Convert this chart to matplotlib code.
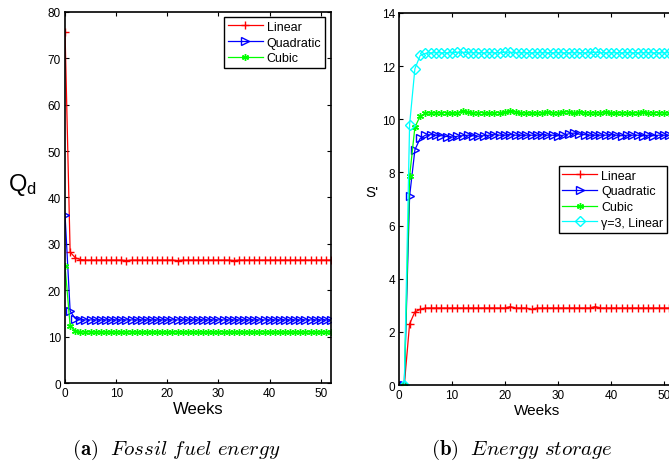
import numpy as np
import matplotlib
matplotlib.use("Agg")
import matplotlib.pyplot as plt

plt.rcParams['font.family'] = ['Liberation Sans', 'DejaVu Sans']
plt.rcParams['mathtext.fontset'] = 'cm'

# ---- (a) fossil fuel energy, weeks 0..52
weeks_a = np.arange(0, 53)
qd_linear = [75.7, 28.2, 27.0, 26.6, 26.5, 26.5, 26.5, 26.5, 26.5, 26.5,
             26.5, 26.5, 26.4, 26.5, 26.5, 26.5, 26.5, 26.5, 26.5, 26.5,
             26.5, 26.5, 26.4, 26.5, 26.5, 26.5, 26.5, 26.5, 26.5, 26.5,
             26.5, 26.5, 26.5, 26.4, 26.5, 26.5, 26.5, 26.5, 26.5, 26.5,
             26.5, 26.5, 26.5, 26.5, 26.5, 26.5, 26.5, 26.5, 26.5, 26.5,
             26.5, 26.5, 26.5]
qd_quadratic = [36.3, 15.5, 13.9, 13.6, 13.6, 13.6, 13.6, 13.6, 13.6, 13.6,
                13.6, 13.6, 13.6, 13.6, 13.6, 13.6, 13.6, 13.6, 13.6, 13.6,
                13.6, 13.6, 13.6, 13.6, 13.6, 13.6, 13.6, 13.6, 13.6, 13.6,
                13.6, 13.6, 13.6, 13.6, 13.6, 13.6, 13.6, 13.6, 13.6, 13.6,
                13.6, 13.6, 13.6, 13.6, 13.6, 13.6, 13.6, 13.6, 13.6, 13.6,
                13.6, 13.6, 13.6]
qd_cubic = [25.2, 12.3, 11.3, 11.1, 11.0, 11.0, 11.0, 11.0, 11.0, 11.0,
            11.0, 11.0, 11.0, 11.0, 11.0, 11.0, 11.0, 11.0, 11.0, 11.0,
            11.0, 11.0, 11.0, 11.0, 11.0, 11.0, 11.0, 11.0, 11.0, 11.0,
            11.0, 11.0, 11.0, 11.0, 11.0, 11.0, 11.0, 11.0, 11.0, 11.0,
            11.0, 11.0, 11.0, 11.0, 11.0, 11.0, 11.0, 11.0, 11.0, 11.0,
            11.0, 11.0, 11.0]

# ---- (b) energy storage, weeks 1..52
weeks_b = np.arange(1, 53)
s_linear = [0.0, 2.3, 2.75, 2.85, 2.9, 2.9, 2.9, 2.9, 2.9, 2.9,
            2.9, 2.9, 2.9, 2.9, 2.9, 2.9, 2.9, 2.9, 2.9, 2.9,
            2.95, 2.9, 2.9, 2.9, 2.85, 2.9, 2.9, 2.9, 2.9, 2.9,
            2.9, 2.9, 2.9, 2.9, 2.9, 2.9, 2.95, 2.9, 2.9, 2.9,
            2.9, 2.9, 2.9, 2.9, 2.9, 2.9, 2.9, 2.9, 2.9, 2.9,
            2.9, 2.9]
s_quadratic = [0.0, 7.1, 8.85, 9.28, 9.4, 9.42, 9.4, 9.38, 9.35, 9.33,
               9.36, 9.38, 9.4, 9.38, 9.36, 9.38, 9.4, 9.42, 9.4, 9.4,
               9.42, 9.4, 9.4, 9.4, 9.4, 9.4, 9.42, 9.4, 9.4, 9.38,
               9.4, 9.45, 9.48, 9.44, 9.42, 9.4, 9.4, 9.4, 9.4, 9.42,
               9.4, 9.38, 9.4, 9.4, 9.4, 9.38, 9.4, 9.38, 9.4, 9.4,
               9.4, 9.4]
s_cubic = [0.0, 7.85, 9.7, 10.12, 10.22, 10.25, 10.25, 10.25, 10.25, 10.22,
           10.25, 10.3, 10.28, 10.25, 10.25, 10.25, 10.22, 10.25, 10.25, 10.28,
           10.3, 10.28, 10.25, 10.25, 10.22, 10.25, 10.25, 10.28, 10.25, 10.25,
           10.28, 10.28, 10.25, 10.28, 10.25, 10.25, 10.25, 10.25, 10.28, 10.25,
           10.22, 10.25, 10.25, 10.22, 10.25, 10.28, 10.25, 10.25, 10.25, 10.25,
           10.25, 10.25]
s_gamma3 = [0.0, 9.8, 11.9, 12.4, 12.48, 12.5, 12.5, 12.5, 12.5, 12.5,
            12.52, 12.52, 12.5, 12.5, 12.5, 12.5, 12.5, 12.5, 12.5, 12.52,
            12.52, 12.5, 12.5, 12.5, 12.5, 12.5, 12.5, 12.5, 12.5, 12.5,
            12.5, 12.5, 12.5, 12.5, 12.5, 12.5, 12.52, 12.5, 12.5, 12.5,
            12.5, 12.5, 12.5, 12.5, 12.5, 12.5, 12.5, 12.5, 12.5, 12.5,
            12.5, 12.5]

fig = plt.figure(figsize=(6.69, 4.64), dpi=100)
ax1 = fig.add_axes([0.0972, 0.1724, 0.3976, 0.800])
ax2 = fig.add_axes([0.5964, 0.168, 0.412, 0.802])

lw = 0.9
ms = 6
ax1.plot(weeks_a, qd_linear, color='red', marker='+', lw=lw, ms=ms, label='Linear')
ax1.plot(weeks_a, qd_quadratic, color='blue', marker='>', mfc='none', lw=lw, ms=ms,
         label='Quadratic')
ax1.plot(weeks_a, qd_cubic, color='#00ff00', marker=(6, 2, 0), lw=lw, ms=5, label='Cubic')

ax2.plot(weeks_b, s_linear, color='red', marker='+', lw=lw, ms=ms, label='Linear')
ax2.plot(weeks_b, s_quadratic, color='blue', marker='>', mfc='none', lw=lw, ms=ms,
         label='Quadratic')
ax2.plot(weeks_b, s_cubic, color='#00ff00', marker=(6, 2, 0), lw=lw, ms=5, label='Cubic')
ax2.plot(weeks_b, s_gamma3, color='cyan', marker='D', mfc='none', lw=lw, ms=5,
         label='γ=3, Linear')

ax1.set_xlim(0, 52)
ax1.set_ylim(0, 80)
ax1.set_xticks(range(0, 51, 10))
ax1.set_yticks(range(0, 81, 10))
ax2.set_xlim(0, 52)
ax2.set_ylim(0, 14)
ax2.set_xticks(range(0, 51, 10))
ax2.set_yticks(range(0, 15, 2))

for ax in (ax1, ax2):
    ax.tick_params(direction='in', top=True, right=True, length=3, width=0.8,
                   labelsize=8.5, pad=3)
    for sp in ax.spines.values():
        sp.set_linewidth(1.2)

ax1.set_xlabel('Weeks', fontsize=12, labelpad=1)
ax2.set_xlabel('Weeks', fontsize=11, labelpad=1)
ax1.set_ylabel(r'$\mathregular{Q_d}$', fontsize=17, rotation=0)
ax1.yaxis.set_label_coords(-0.16, 0.5)
ax2.set_ylabel("S'", fontsize=11, rotation=0)
ax2.yaxis.set_label_coords(-0.10, 0.5)

leg_kw = dict(fontsize=9, frameon=True, fancybox=False, framealpha=1,
              edgecolor='black', handlelength=2.8, labelspacing=0.3,
              borderpad=0.3, handletextpad=0.3, borderaxespad=0,
              loc='upper right')
l1 = ax1.legend(bbox_to_anchor=(0.977, 0.986), **leg_kw)
l2 = ax2.legend(bbox_to_anchor=(0.972, 0.589), **leg_kw)
for l in (l1, l2):
    l.get_frame().set_linewidth(1.0)

fig.text(0.263, 0.030, r'$\mathbf{(a)}\ \ \mathit{Fossil\ fuel\ energy}$',
         ha='center', va='center', fontsize=15)
fig.text(0.780, 0.030, r'$\mathbf{(b)}\ \ \mathit{Energy\ storage}$',
         ha='center', va='center', fontsize=15)

fig.savefig('out.png', dpi=100)
